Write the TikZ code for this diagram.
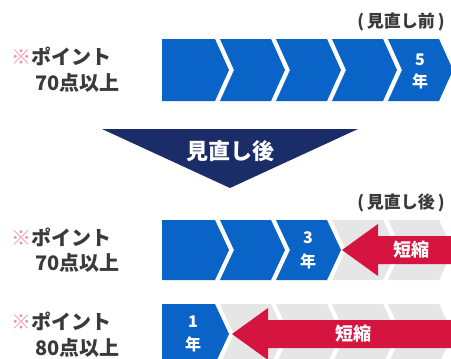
\documentclass[tikz,border=0pt]{standalone}
\usepackage{fontspec}
\setmainfont{Noto Sans CJK JP}
\definecolor{blu}{RGB}{10,100,200}
\definecolor{navy}{RGB}{27,45,104}
\definecolor{lgray}{RGB}{230,230,230}
\definecolor{crim}{RGB}{214,20,64}
\definecolor{txtgray}{RGB}{58,58,58}
\definecolor{pink}{RGB}{240,140,176}
\newcommand\chevseg[4]{%
  \pgfmathsetmacro\xr{215+56*#1}%
  \pgfmathsetmacro\xl{164+56*#1}%
  \pgfmathsetmacro\ym{(#2+#3)/2}%
  \ifnum#1=0
    \fill[#4] (162,#2) -- (\xr,#2) -- (\xr+14,\ym) -- (\xr,#3) -- (162,#3) -- cycle;
  \else
    \fill[#4] (\xl,#2) -- (\xr,#2) -- (\xr+14,\ym) -- (\xr,#3) -- (\xl,#3) -- (\xl+14,\ym) -- cycle;
  \fi}
\begin{document}
\begin{tikzpicture}[x=1pt,y=-1pt,
  lbl/.style={font=\bfseries\fontsize{20}{20}\selectfont, text=txtgray, inner sep=0pt, anchor=west},
  tag/.style={font=\bfseries\fontsize{17}{17}\selectfont, text=txtgray, inner sep=0pt},
  wt/.style={font=\bfseries\fontsize{16}{16}\selectfont, text=white, inner sep=0pt},
  wbig/.style={font=\bfseries\fontsize{22}{22}\selectfont, text=white, inner sep=0pt},
  wred/.style={font=\bfseries\fontsize{18}{18}\selectfont, text=white, inner sep=0pt}]
\useasboundingbox (0,0) rectangle (451,359);
\clip (0,0) rectangle (451,359);
\fill[white] (0,0) rectangle (451,359);

% row 1
\foreach \i in {0,...,4} {\chevseg{\i}{39}{101}{blu}}
\node[tag] (t1) at (401,22) {(\,見直し前\,)};
\node[wt] (n5) at (420,60) {5};
\node[wt] (y5) at (420,81) {年};
\node[lbl] (p1) at (11,56) {{\color{pink}※}ポイント};
\node[lbl] (s1) at (35,83) {70点以上};

% big triangle
\fill[navy] (102,129) -- (358,129) -- (230,188) -- cycle;
\node[wbig] (mid) at (230,151) {見直し後};

% row 2
\foreach \i/\c in {0/blu,1/blu,2/blu,3/lgray,4/lgray} {\chevseg{\i}{220}{280}{\c}}
\node[tag] (t2) at (401,203) {(\,見直し後\,)};
\node[wt] (n3) at (308,238) {3};
\node[wt] (y3) at (308,261) {年};
\fill[crim] (342,250) -- (378,224) -- (378,236) -- (460,236) -- (460,264) -- (378,264) -- (378,276) -- cycle;
\node[wred] (r2) at (411,250) {短縮};
\node[lbl] (p2) at (11,237) {{\color{pink}※}ポイント};
\node[lbl] (s2) at (35,263) {70点以上};

% row 3
\foreach \i/\c in {0/blu,1/lgray,2/lgray,3/lgray,4/lgray} {\chevseg{\i}{304}{364}{\c}}
\node[wt] (n1) at (193,322) {1};
\node[wt] (y1) at (193,344) {年};
\fill[crim] (232,334) -- (268,308) -- (268,320) -- (460,320) -- (460,348) -- (268,348) -- (268,360) -- cycle;
\node[wred] (r3) at (353,334) {短縮};
\node[lbl] (p3) at (11,321) {{\color{pink}※}ポイント};
\node[lbl] (s3) at (35,348) {80点以上};
\end{tikzpicture}
\end{document}
